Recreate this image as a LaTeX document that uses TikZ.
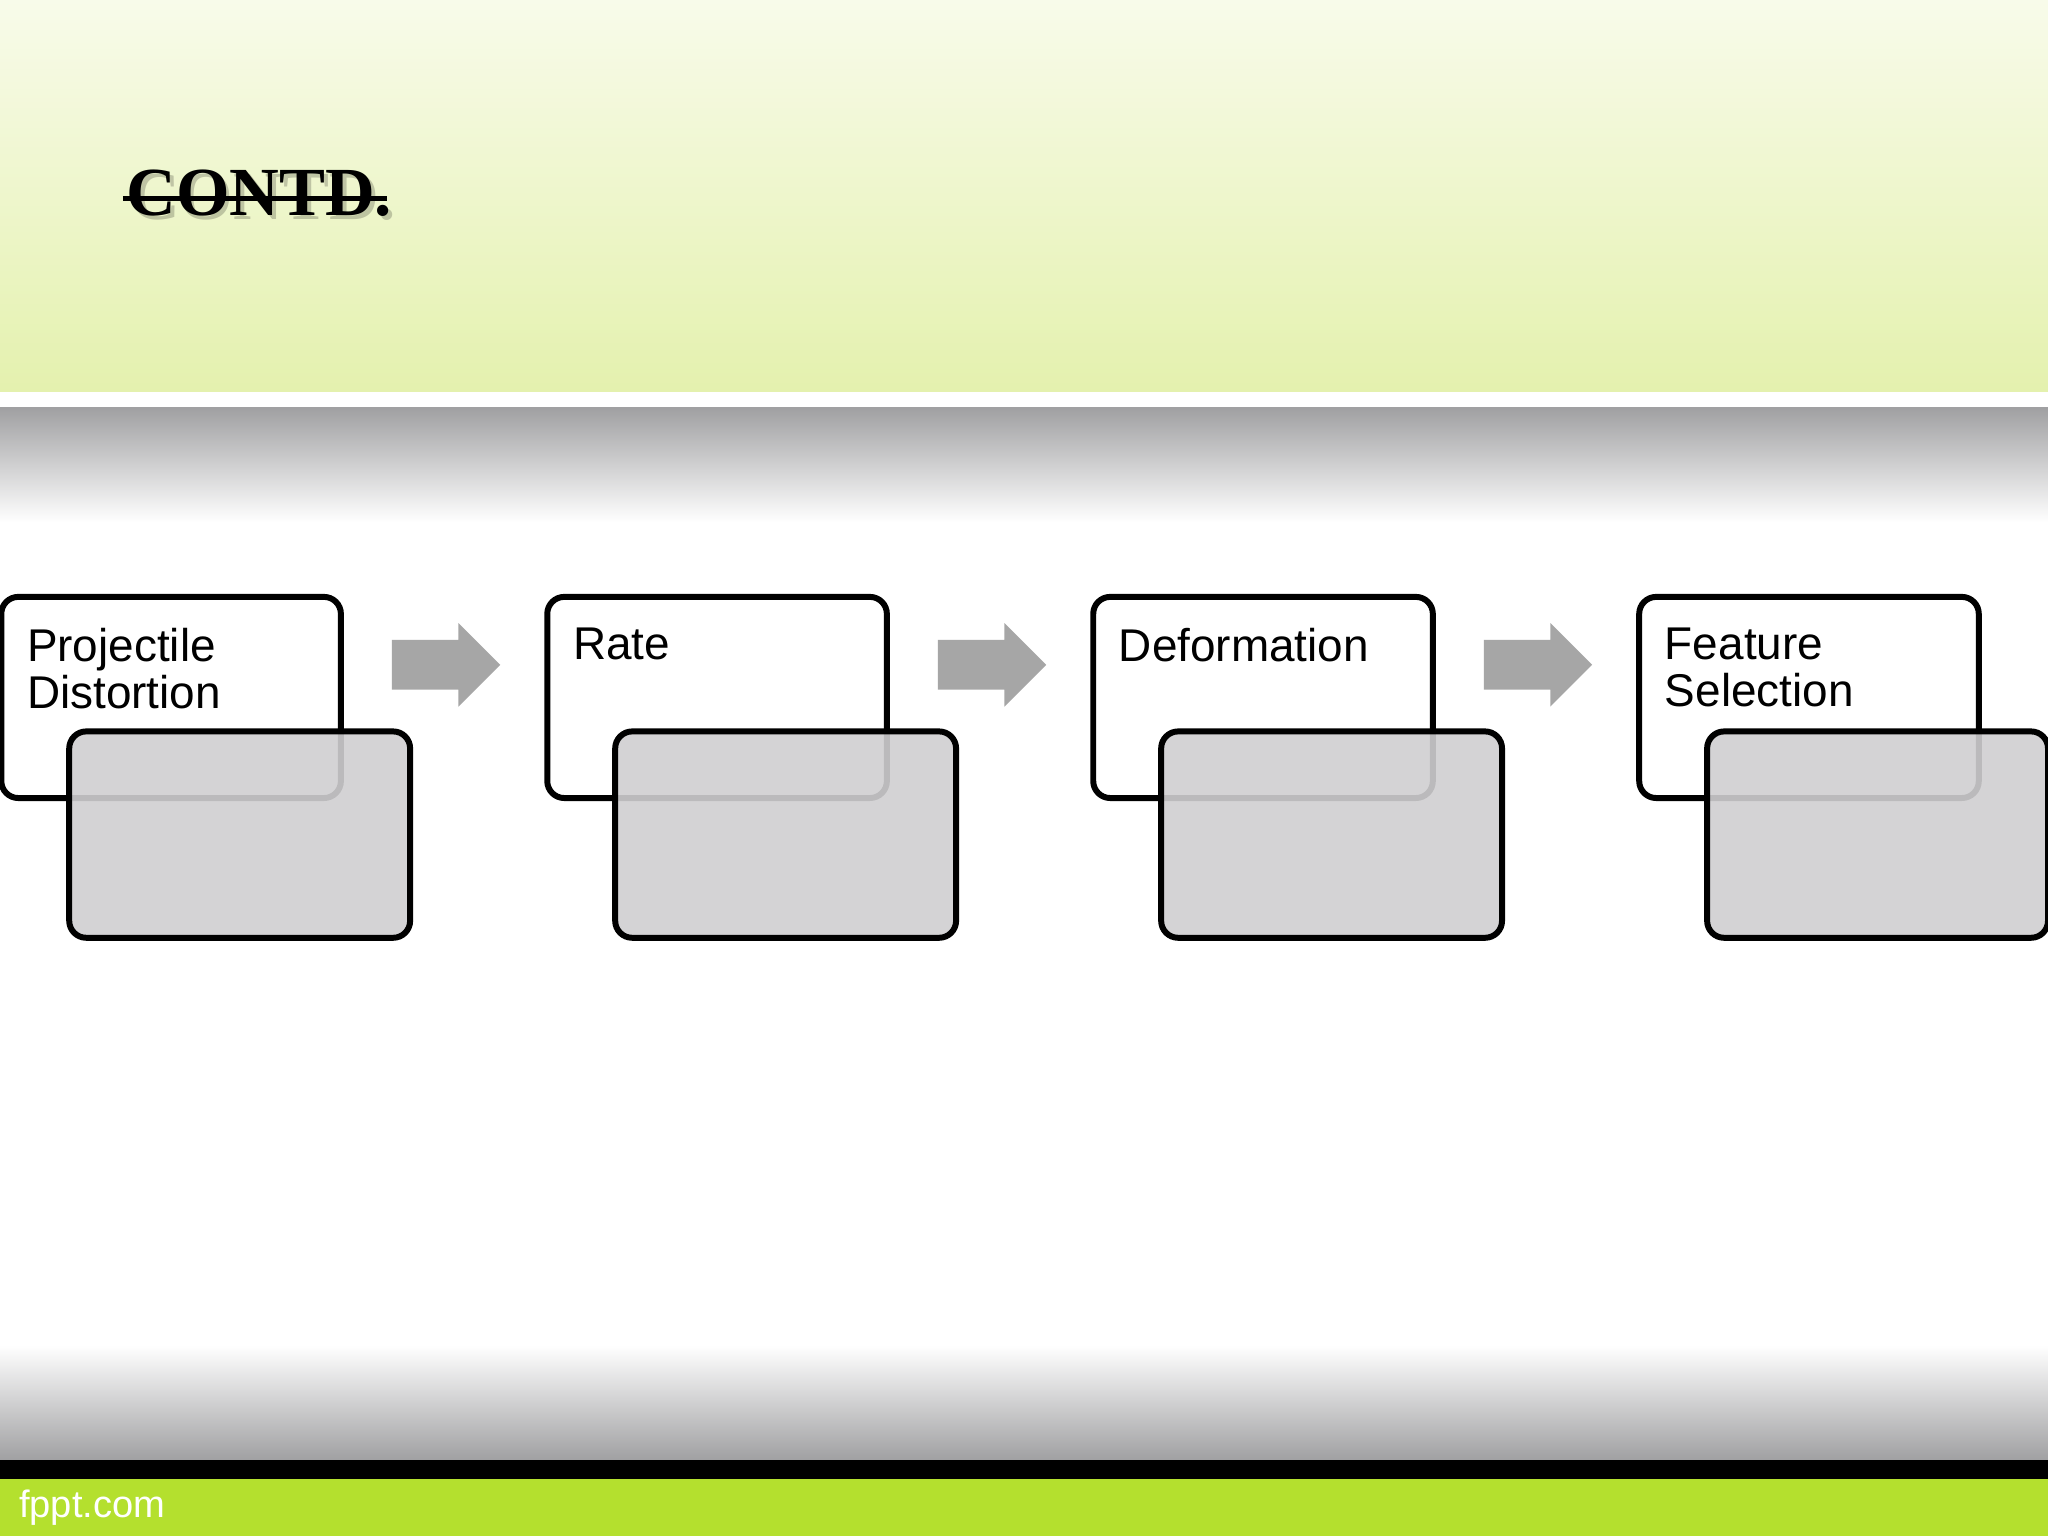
\documentclass[tikz,border=0pt]{standalone}
\usepackage{fontspec}
\setmainfont{Liberation Sans}
\newfontfamily\titlefont{Liberation Serif}
\definecolor{topA}{HTML}{F8FBEA}
\definecolor{topB}{HTML}{E4F1AE}
\definecolor{grayband}{HTML}{A0A0A2}
\definecolor{barGreen}{HTML}{B4E02E}
\definecolor{backbox}{HTML}{D0CFD1}
\definecolor{arrowgray}{HTML}{A6A6A6}
\tikzset{
  frontbox/.style={draw=black,line width=1.3pt,rounded corners=0.13cm,fill=white},
  backboxst/.style={draw=black,line width=1.3pt,rounded corners=0.13cm,fill=backbox,fill opacity=0.9},
  lbl/.style={anchor=north west,align=left,font=\fontsize{10}{10.3}\selectfont,inner sep=0pt},
  flowarrow/.style={fill=arrowgray,draw=none},
  titlest/.style={anchor=base west,inner sep=0pt,font=\titlefont\bfseries\fontsize{15}{18}\selectfont}
}
\begin{document}
\begin{tikzpicture}[x=1cm,y=-1cm]
\useasboundingbox (0,0) rectangle (15.68,11.76);
% backgrounds
\shade[top color=topA,bottom color=topB] (0,0) rectangle (15.68,3.0);
\fill[white] (0,3.0) rectangle (15.68,3.12);
\shade[top color=grayband,bottom color=white] (0,3.12) rectangle (15.68,4.0);
\fill[white] (0,4.0) rectangle (15.68,10.3);
\shade[top color=white,bottom color=grayband] (0,10.3) rectangle (15.68,11.18);
\fill[black] (0,11.18) rectangle (15.68,11.32);
\fill[barGreen] (0,11.32) rectangle (15.68,11.76);
\node[anchor=west,text=white,font=\fontsize{8.3}{10}\selectfont,inner sep=0pt] (foot) at (0.14,11.54) {fppt.com};
% title
\node[titlest,text=black,opacity=0.2] (shadow) at (0.99,1.68) {CONTD.};
\node[titlest] (title) at (0.96,1.65) {CONTD.};
\coordinate (s1) at (0.94,1.52);
\coordinate (s2) at (2.96,1.52);
\draw[line width=0.9pt] (s1) -- (s2);
% stages
\foreach \i/\t in {0/{Projectile\\Distortion},1/{Rate},2/{Deformation},3/{Feature\\Selection}}{
  \begin{scope}[xshift=4.18*\i cm]
    \draw[frontbox] (0.01,4.57) rectangle (2.61,6.11);
    \node[lbl] (t\i) at (0.2,4.8) {\t};
    \draw[backboxst] (0.53,5.60) rectangle (3.14,7.18);
  \end{scope}
}
\foreach \i in {0,1,2}{
  \begin{scope}[xshift=4.18*\i cm]
    \fill[flowarrow] (3.00,4.90) -- (3.51,4.90) -- (3.51,4.77) -- (3.83,5.09) -- (3.51,5.41) -- (3.51,5.28) -- (3.00,5.28) -- cycle;
  \end{scope}
}
\end{tikzpicture}
\end{document}
